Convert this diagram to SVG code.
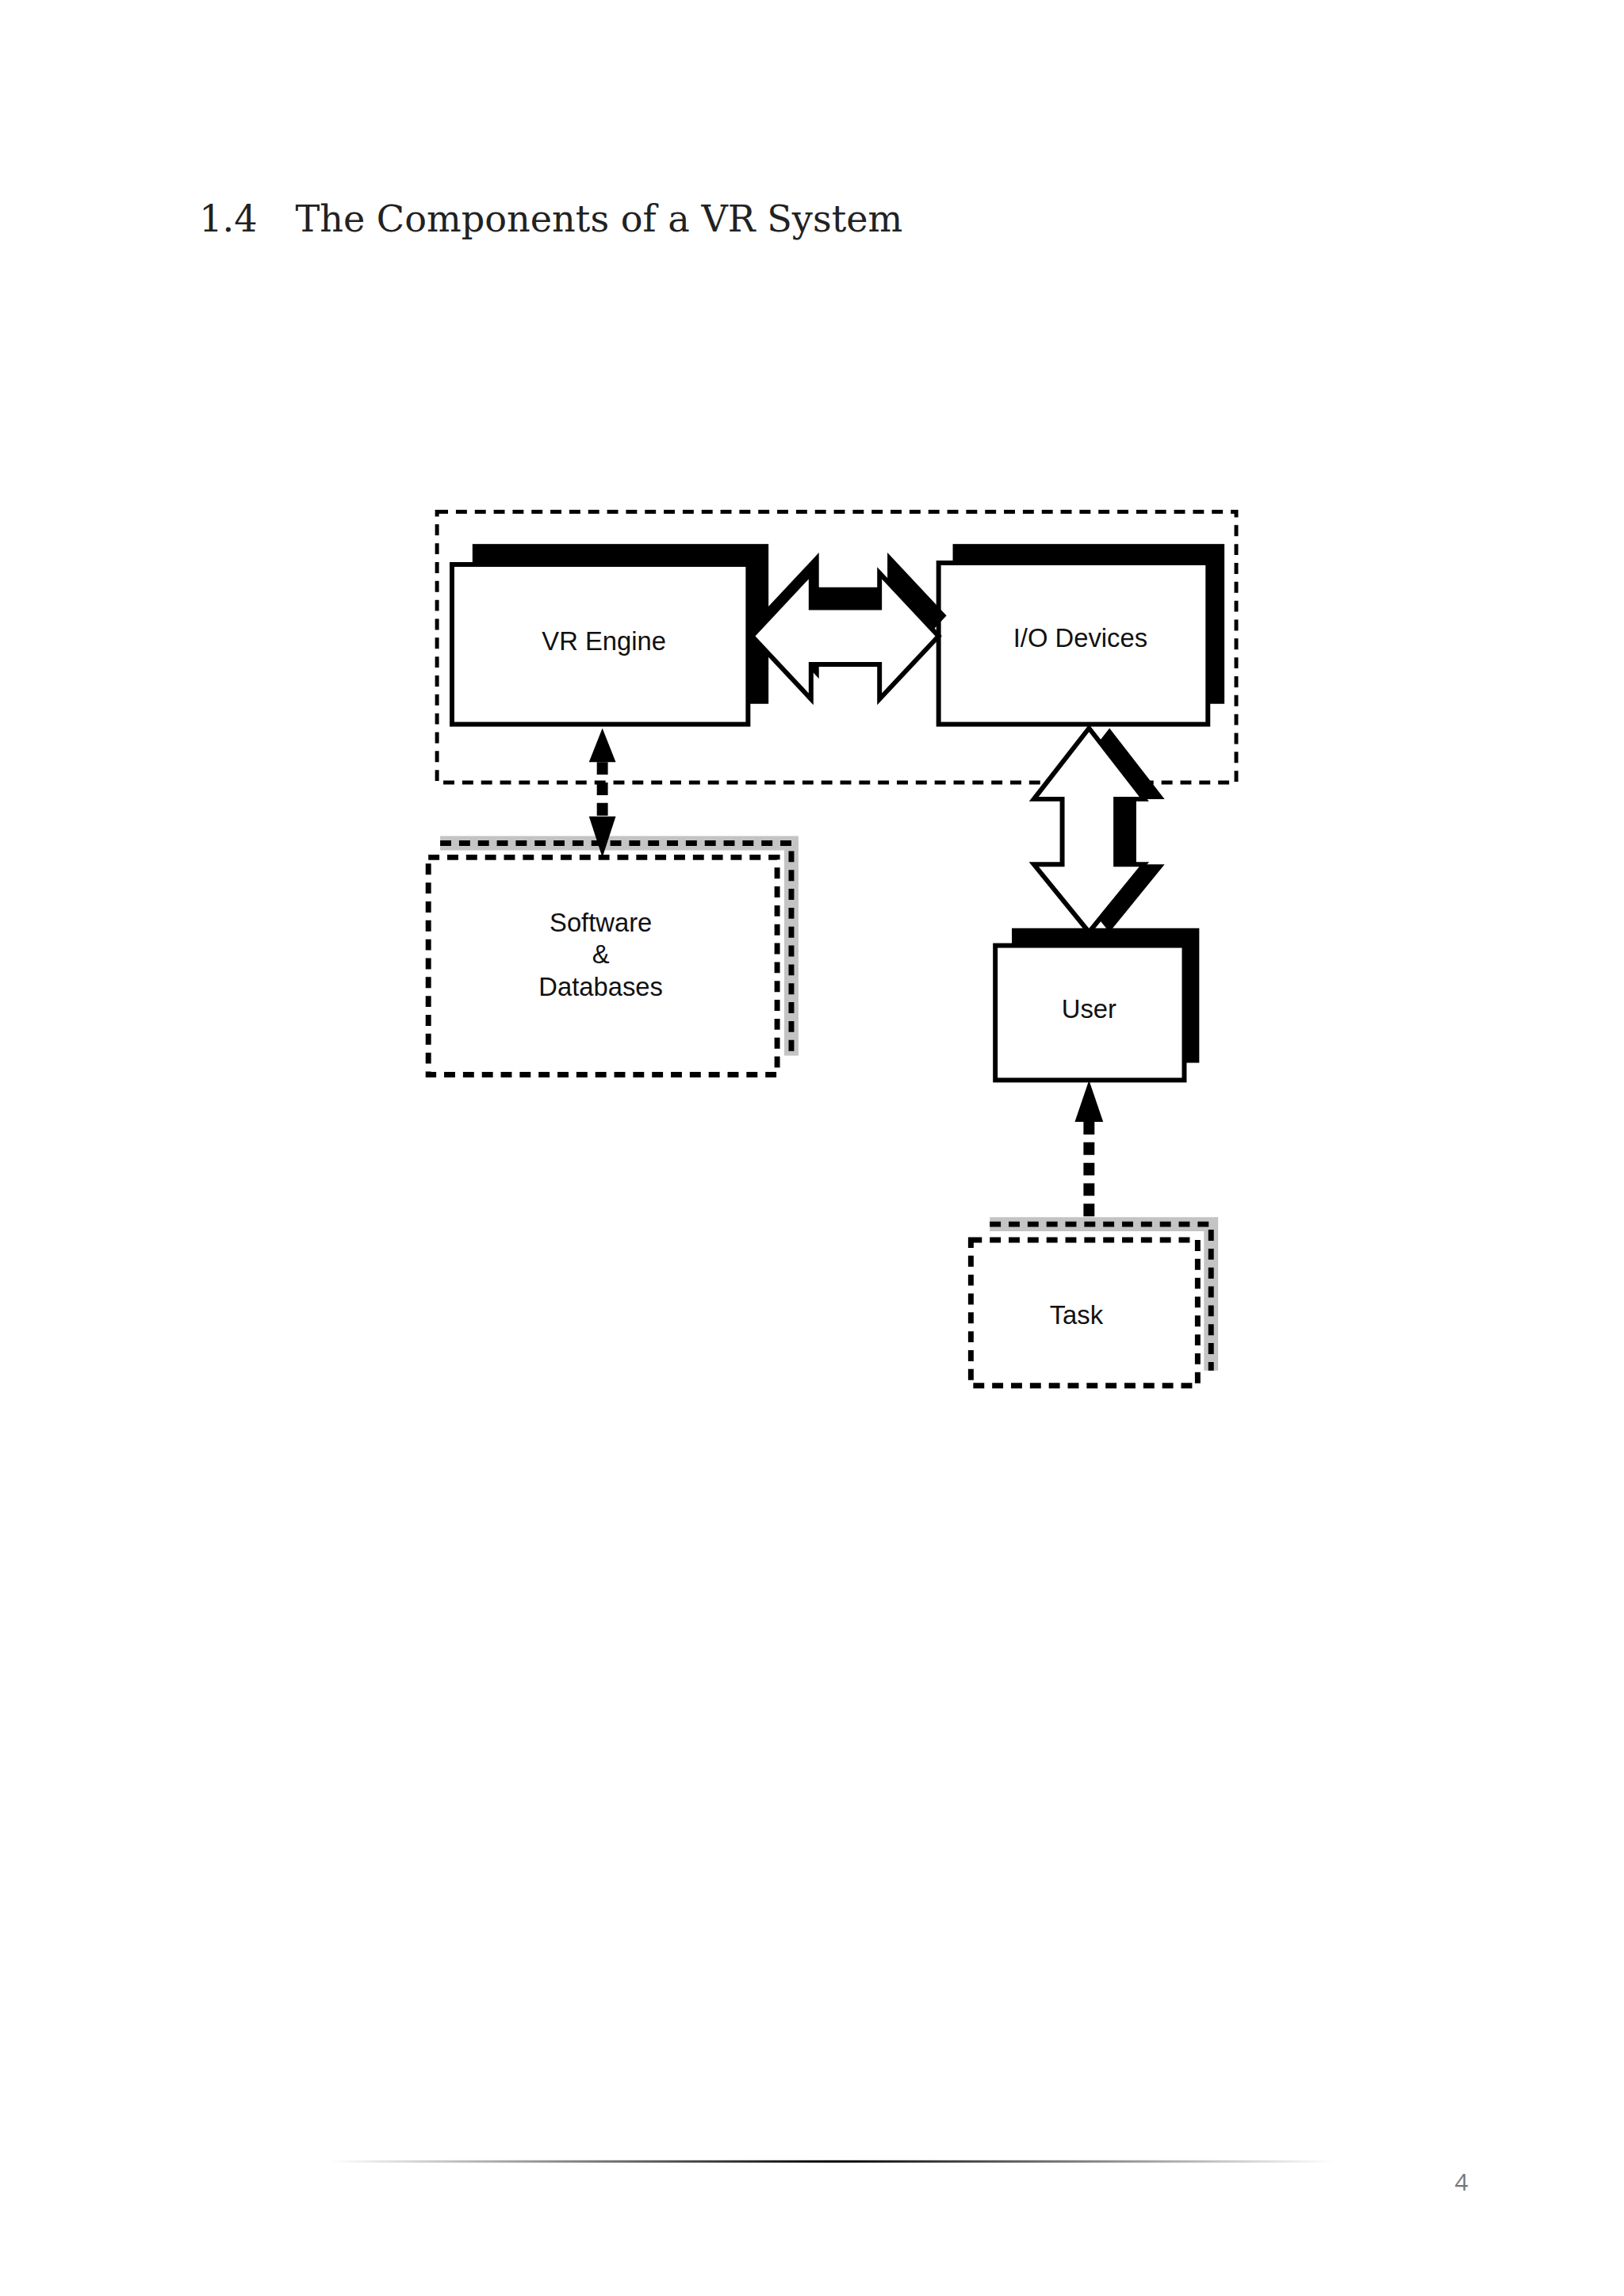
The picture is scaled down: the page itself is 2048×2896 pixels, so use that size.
<svg xmlns="http://www.w3.org/2000/svg" width="2048" height="2896" viewBox="0 0 2048 2896">
<style>
.lbl{font-family:"Liberation Sans",Arial,sans-serif;font-size:33px;fill:#111;text-anchor:middle}
.box{fill:#fff;stroke:#000;stroke-width:6}
.sh{fill:#000}
.dash{fill:none;stroke:#000;stroke-width:5;stroke-dasharray:14 10}
.gsh{fill:none;stroke:#c4c4c4;stroke-width:18}
.gdash{fill:none;stroke:#000;stroke-width:7;stroke-dasharray:14 10}
</style>
<defs>
<linearGradient id="fl" x1="0" x2="1"><stop offset="0" stop-color="#000" stop-opacity="0"/><stop offset="0.5" stop-color="#000"/><stop offset="1" stop-color="#000" stop-opacity="0"/></linearGradient>
</defs>
<rect width="2048" height="2896" fill="#fff"/>
<g transform="scale(0.993)">
<text x="253" y="294" font-family="'DejaVu Serif',serif" font-size="46.5" fill="#222">1.4<tspan x="375">The Components of a VR System</tspan></text>
<g id="system-boundary"><rect x="555" y="650" width="1015" height="344" class="dash" stroke-width="4"/></g>
<g id="vr-engine">
<rect x="600" y="691" width="376" height="203" class="sh"/>
<rect x="574" y="717" width="376" height="203" class="box"/>
<text x="767" y="826" class="lbl">VR Engine</text>
</g>
<g id="io-devices">
<rect x="1210" y="691" width="345" height="203" class="sh"/>
<rect x="1192" y="715" width="342" height="205" class="box"/>
<text x="1372" y="822" class="lbl">I/O Devices</text>
</g>
<g id="user">
<rect x="1285" y="1179" width="238" height="171" class="sh"/>
<rect x="1264" y="1201" width="240" height="171" class="box"/>
<text x="1383" y="1293" class="lbl">User</text>
</g>
<g id="software">
<path d="M559 1071 H1005 V1341" class="gsh"/>
<path d="M559 1071 H1005 V1341" class="gdash"/>
<rect x="544" y="1089" width="443" height="276" class="gdash"/>
<text x="763" y="1183" class="lbl">Software</text>
<text x="763" y="1224" class="lbl">&amp;</text>
<text x="763" y="1265" class="lbl">Databases</text>
</g>
<g id="task">
<path d="M1257 1555 H1538 V1741" class="gsh"/>
<path d="M1257 1555 H1538 V1741" class="gdash"/>
<rect x="1233" y="1575" width="288" height="185" class="gdash"/>
<text x="1367" y="1682" class="lbl">Task</text>
</g>
<g id="connectors">
<polygon transform="translate(10,-26)" class="sh" points="955,808 1030,728 1030,772 1117,772 1117,728 1192,808 1117,888 1117,844 1030,844 1030,888"/>
<polygon class="box" stroke-width="5" points="955,808 1030,728 1030,772 1117,772 1117,728 1192,808 1117,888 1117,844 1030,844 1030,888"/>
<polygon transform="translate(26,0)" class="sh" points="1383,925 1453,1015 1417,1015 1417,1098 1453,1098 1383,1184 1313,1098 1349,1098 1349,1015 1313,1015"/>
<polygon class="box" stroke-width="5" points="1383,925 1453,1015 1417,1015 1417,1098 1453,1098 1383,1184 1313,1098 1349,1098 1349,1015 1313,1015"/>
<polygon points="765,925 782,968 748,968" fill="#000"/>
<line x1="765" y1="968" x2="765" y2="1040" stroke="#000" stroke-width="14" stroke-dasharray="16 10"/>
<polygon points="748,1037 782,1037 765,1089" fill="#000"/>
<polygon points="1383,1372 1401,1425 1365,1425" fill="#000"/>
<line x1="1383" y1="1425" x2="1383" y2="1555" stroke="#000" stroke-width="14" stroke-dasharray="16 10"/>
</g>
<rect x="419" y="2744" width="1275" height="3" fill="url(#fl)"/>
<text x="1856" y="2782" font-family="'Open Sans',sans-serif" font-size="30" fill="#777" text-anchor="middle">4</text>
</g>
</svg>
